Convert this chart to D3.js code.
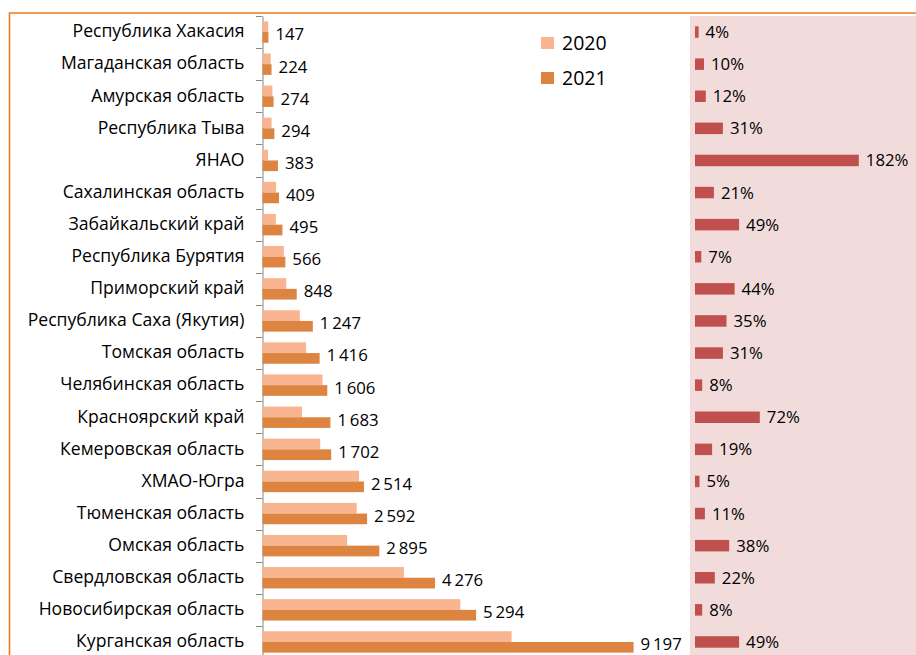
<!DOCTYPE html>
<html>
<head>
<meta charset="utf-8">
<script src="https://cdn.jsdelivr.net/npm/d3@7"></script>
<style>
  body { margin: 0; background: #fff; }
  svg text { font-family: "Open Sans", "Noto Sans", sans-serif; fill: #000; }
</style>
</head>
<body>
<svg id="chart"></svg>
<script>
const width = 916, height = 655;

// data
const regions = [
  "Республика Хакасия", "Магаданская область", "Амурская область", "Республика Тыва",
  "ЯНАО", "Сахалинская область", "Забайкальский край", "Республика Бурятия",
  "Приморский край", "Республика Саха (Якутия)", "Томская область", "Челябинская область",
  "Красноярский край", "Кемеровская область", "ХМАО-Югра", "Тюменская область",
  "Омская область", "Свердловская область", "Новосибирская область", "Курганская область"
];
const values2020 = [141, 204, 245, 224, 136, 338, 332, 529, 589, 924, 1081, 1487, 978, 1430, 2394, 2335, 2098, 3505, 4902, 6172];
const values2021 = [147, 224, 274, 294, 383, 409, 495, 566, 848, 1247, 1416, 1606, 1683, 1702, 2514, 2592, 2895, 4276, 5294, 9197];
const growth = [4, 10, 12, 31, 182, 21, 49, 7, 44, 35, 31, 8, 72, 19, 5, 11, 38, 22, 8, 49];
const years = ["2020", "2021"];

const colors = { "2020": "#f9b490", "2021": "#dd8540" };

const svg = d3.select("#chart").attr("width", width).attr("height", height);

// 1. frame and right panel
svg.append("rect").attr("x", 690).attr("y", 16).attr("width", 240).attr("height", 660)
  .attr("fill", "#f2dcdb");
svg.append("path").attr("d", "M9.5,700 V13 H920")
  .attr("fill", "none").attr("stroke", "#ec7a1c").attr("stroke-width", 1.6);

// 2. scales
const y = d3.scaleBand().domain(regions).range([16, 658]);
const ySub = d3.scaleBand().domain(years).range([0, y.bandwidth()]).paddingOuter(0.5).paddingInner(0);
const x = d3.scaleLinear().domain([0, 10000]).range([262.5, 666]);
const xp = d3.scaleLinear().domain([0, 200]).range([695, 875]);

const fmt = d3.formatLocale({ decimal: ",", thousands: "\u2009", grouping: [3], currency: ["", ""] }).format(",d");

// 3. category axis
const yAxis = svg.append("g").attr("transform", "translate(262.5,0)")
  .call(d3.axisLeft(y).tickSize(0).tickPadding(18));
yAxis.select(".domain").attr("stroke", "#868686");
yAxis.selectAll("text").style("font-size", "17.6px").attr("dy", "0.3em");
// boundary ticks
svg.append("g").selectAll("line").data(regions).join("line")
  .attr("x1", 256).attr("x2", 262.5)
  .attr("y1", d => Math.round(y(d)) + 0.5).attr("y2", d => Math.round(y(d)) + 0.5)
  .attr("stroke", "#868686");

// 4. bars
const rows = regions.map((r, i) => ({ region: r, "2020": values2020[i], "2021": values2021[i], g: growth[i] }));
const groups = svg.append("g").selectAll("g").data(rows).join("g")
  .attr("transform", d => `translate(0,${y(d.region)})`);

years.forEach(yr => {
  groups.append("rect")
    .attr("x", x(0))
    .attr("y", ySub(yr))
    .attr("width", d => x(d[yr]) - x(0))
    .attr("height", ySub.bandwidth())
    .attr("fill", colors[yr]);
});

groups.append("text")
  .attr("x", d => x(d["2021"]) + 7)
  .attr("y", ySub("2021") + ySub.bandwidth() / 2 - 3)
  .attr("dy", "0.36em")
  .style("font-size", "16.8px")
  .text(d => fmt(d["2021"]));

// 5. growth bars
const pBarH = 11.5;
groups.append("rect")
  .attr("x", xp(0))
  .attr("y", y.bandwidth() / 2 - pBarH / 2)
  .attr("width", d => xp(d.g) - xp(0))
  .attr("height", pBarH)
  .attr("fill", "#c0504d");

groups.append("text")
  .attr("x", d => xp(d.g) + 7)
  .attr("y", y.bandwidth() / 2)
  .attr("dy", "0.36em")
  .style("font-size", "16.8px")
  .text(d => d.g + "%");

// 6. legend
const legend = svg.append("g").selectAll("g").data(years).join("g")
  .attr("transform", (d, i) => `translate(541,${37 + i * 35})`);
legend.append("rect").attr("width", 13).attr("height", 12).attr("fill", d => colors[d]);
legend.append("text").attr("x", 21).attr("y", 6).attr("dy", "0.36em")
  .style("font-size", "19.5px").text(d => d);
</script>
</body>
</html>
